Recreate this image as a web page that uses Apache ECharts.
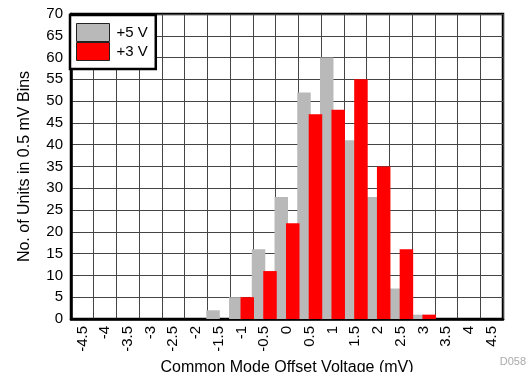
<!DOCTYPE html>
<html><head><meta charset="utf-8">
<script src="https://cdn.jsdelivr.net/npm/echarts@6/dist/echarts.min.js"></script>
<style>html,body{margin:0;padding:0;background:#fff}#c{width:526px;height:372px}</style>
</head><body><div id="c"></div>
<script>
var categories = ['-4.5','-4','-3.5','-3','-2.5','-2','-1.5','-1','-0.5','0','0.5','1','1.5','2','2.5','3','3.5','4','4.5'];
var v5 = [0,0,0,0,0,0,2,5,16,28,52,60,41,28,7,1,0,0,0];
var v3 = [0,0,0,0,0,0,0,5,11,22,47,48,55,35,16,1,0,0,0];
var seriesNames = ['+5 V','+3 V'];
var FONT = 'Liberation Sans, Arial, sans-serif';
var chart = echarts.init(document.getElementById('c'), null, {renderer:'canvas'});
chart.setOption({
  animation:false,
  backgroundColor:'#fff',
  grid:{left:71,right:23,top:14,bottom:53,outerBoundsMode:'none',containLabel:false,show:true,borderColor:'#000',borderWidth:2.5,backgroundColor:'transparent'},
  legend:{
    left:70, top:15, orient:'vertical', itemGap:0, itemWidth:33, itemHeight:18, icon:'rect',
    padding:[8,8,8,6], backgroundColor:'#fff', borderColor:'#000', borderWidth:2.5,
    textStyle:{fontFamily:FONT,fontSize:15,color:'#000',padding:[0,0,0,2]},
    itemStyle:{borderColor:'#222',borderWidth:1},
    data:seriesNames
  },
  xAxis:{
    type:'category', data:categories,
    name:'Common Mode Offset Voltage (mV)', nameLocation:'middle', nameGap:38,
    nameTextStyle:{fontFamily:FONT,fontSize:16,color:'#000'},
    axisLine:{lineStyle:{color:'#000',width:2.5}},
    axisTick:{show:false},
    axisLabel:{rotate:90,fontFamily:FONT,fontSize:15,color:'#000',margin:7},
    splitLine:{show:true,lineStyle:{color:'#444',width:1}}
  },
  yAxis:{
    type:'value', min:0, max:70, interval:5,
    name:'No. of Units in 0.5 mV Bins', nameLocation:'middle', nameGap:38,
    nameTextStyle:{fontFamily:FONT,fontSize:16,color:'#000'},
    axisLine:{show:true,lineStyle:{color:'#000',width:2.5}},
    axisTick:{show:false},
    axisLabel:{fontFamily:FONT,fontSize:15,color:'#000',margin:8},
    splitLine:{show:true,lineStyle:{color:'#444',width:1}}
  },
  graphic:[{type:'text',right:0,bottom:5,style:{text:'D058',fontFamily:FONT,fontSize:11,fill:'#aaa'}}],
  series:[
    {name:seriesNames[0],type:'bar',data:v5,barWidth:13.5,barGap:'-15%',itemStyle:{color:'#b9b9b9'}},
    {name:seriesNames[1],type:'bar',data:v3,barWidth:13.5,itemStyle:{color:'#ff0000'}}
  ]
});
</script></body></html>
